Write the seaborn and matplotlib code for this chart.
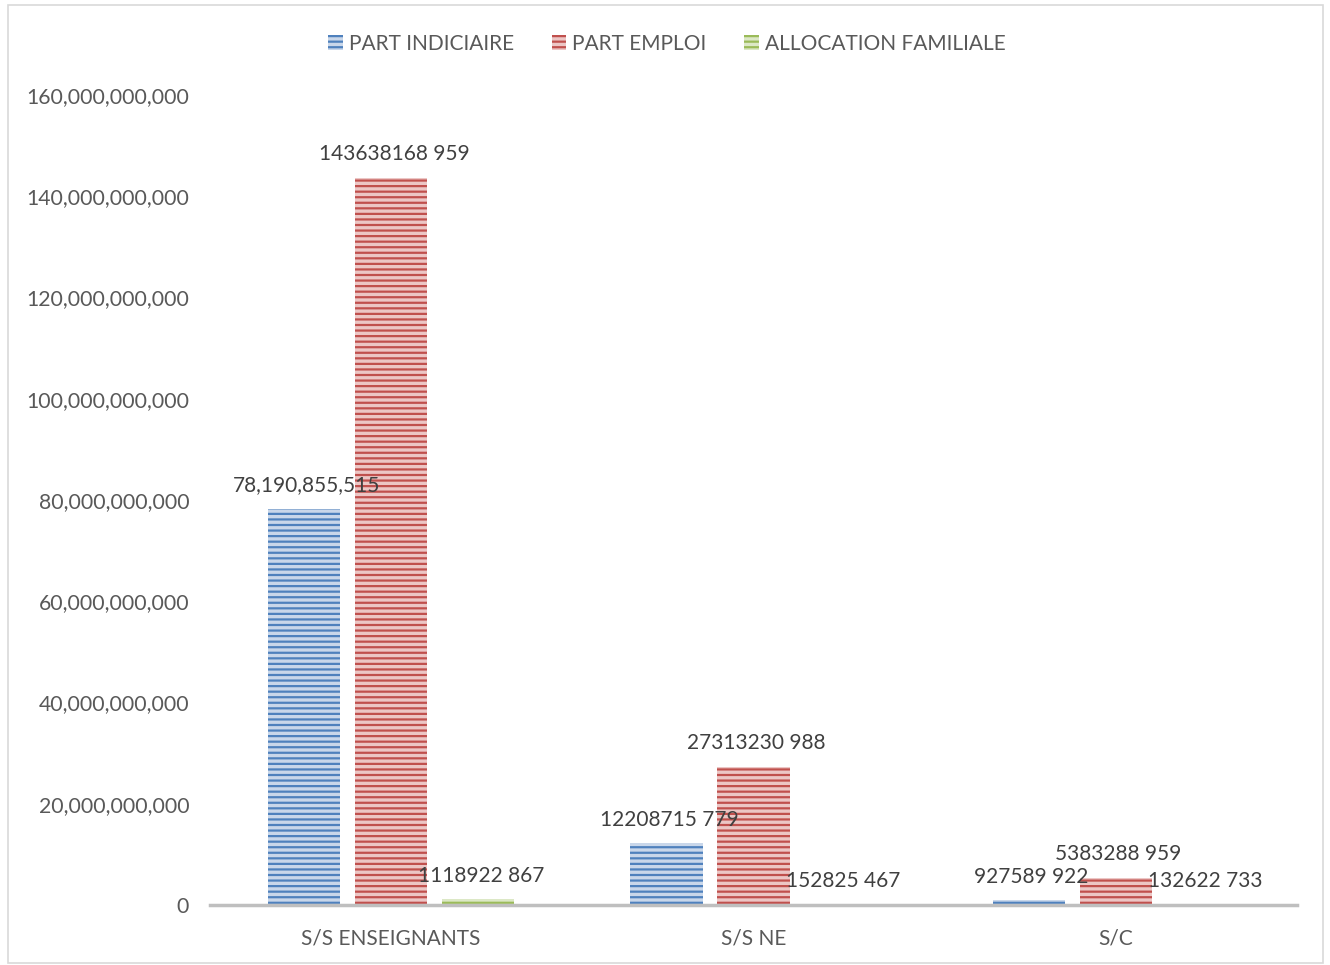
import pandas as pd
import seaborn as sns
import matplotlib
matplotlib.use("Agg")
import matplotlib.pyplot as plt
from matplotlib.patches import Rectangle, Patch
from matplotlib.ticker import FuncFormatter

categories = ["S/S ENSEIGNANTS", "S/S NE", "S/C"]
series = ["PART INDICIAIRE", "PART EMPLOI", "ALLOCATION FAMILIALE"]
part_indiciaire = [78190855515, 12208715779, 927589922]
part_emploi = [143638168959, 27313230988, 5383288959]
allocation_familiale = [1118922867, 152825467, 132622733]
labels_indiciaire = ["78,190,855,515", "12208715 779", "927589 922"]
labels_emploi = ["143638168 959", "27313230 988", "5383288 959"]
labels_allocation = ["1118922 867", "152825 467", "132622 733"]

line_colors = ["#4F81BD", "#C0504D", "#9BBB59"]
face_colors = ["#C9D7EA", "#ECC6C5", "#DCE8C6"]

rows = []
for s, vals in zip(series, [part_indiciaire, part_emploi, allocation_familiale]):
    for c, v in zip(categories, vals):
        rows.append({"category": c, "series": s, "value": v})
df = pd.DataFrame(rows)

sns.set_style("white")
plt.rcParams["font.family"] = ["Lato", "DejaVu Sans"]
plt.rcParams["hatch.linewidth"] = 1.6

fig = plt.figure(figsize=(13.3, 9.65), dpi=100)
ax = fig.add_axes([210 / 1330, 1 - 905 / 965, 1087 / 1330, 810 / 965])

sns.barplot(data=df, x="category", y="value", hue="series", order=categories,
            hue_order=series, palette=line_colors, width=0.72, gap=0.167,
            ax=ax, legend=False)

all_labels = [labels_indiciaire, labels_emploi, labels_allocation]
for i, cont in enumerate(ax.containers):
    for j, bar in enumerate(cont):
        bar.set_facecolor(face_colors[i])
        bar.set_edgecolor(line_colors[i])
        bar.set_linewidth(0)
        bar.set_hatch("---")
        h = bar.get_height()
        ax.annotate(all_labels[i][j], (bar.get_x() + bar.get_width() / 2, h),
                    xytext=(2, 17), textcoords="offset points", ha="center",
                    va="center", fontsize=15, color="#404040")

ax.set_ylim(0, 160e9)
ax.set_xlim(-0.5, 2.5)
ax.set_yticks(range(0, 160000000001, 20000000000))
ax.yaxis.set_major_formatter(FuncFormatter(lambda v, p: "0" if v == 0 else f"{int(v):,}"))
ax.tick_params(axis="y", length=0, pad=15, labelsize=15.3, labelcolor="#595959")
ax.tick_params(axis="x", length=0, pad=17, labelsize=15, labelcolor="#595959")
ax.set_xlabel("")
ax.set_ylabel("")
for s in ["top", "right", "left"]:
    ax.spines[s].set_visible(False)
ax.spines["bottom"].set_color("#BFBFBF")
ax.spines["bottom"].set_linewidth(2.5)

handles = [Patch(facecolor=face_colors[i], edgecolor=line_colors[i], hatch="---", linewidth=0)
           for i in range(3)]
fig.legend(handles, series, loc="center", bbox_to_anchor=(667 / 1330, 1 - 44 / 965),
           ncol=3, frameon=False, fontsize=15, handlelength=0.7, handleheight=0.7,
           handletextpad=0.3, columnspacing=1.8, labelcolor="#595959")

fig.patches.append(Rectangle((8 / 1330, 2 / 965), 1315 / 1330, 958 / 965,
                             transform=fig.transFigure, fill=False,
                             edgecolor="#D9D9D9", linewidth=1.2))

fig.savefig("out.png", dpi=100)
